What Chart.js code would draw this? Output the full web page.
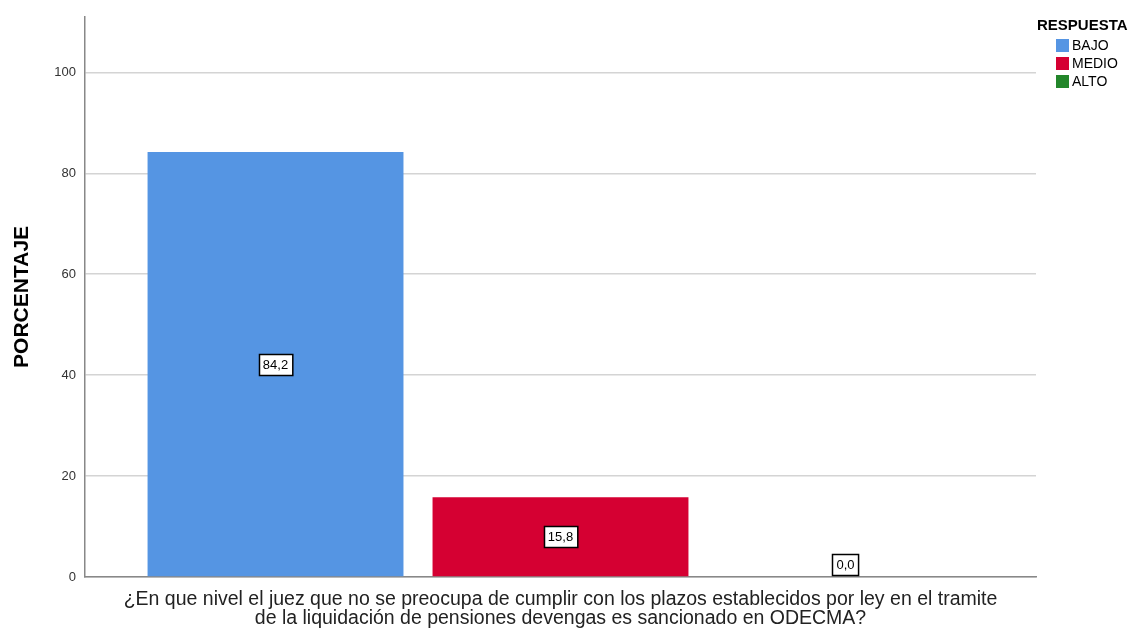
<!DOCTYPE html>
<html>
<head>
<meta charset="utf-8">
<script src="https://cdn.jsdelivr.net/npm/chart.js@4/dist/chart.umd.min.js"></script>
<style>
html,body{margin:0;padding:0;background:#fff;}
#wrap{width:1131px;height:630px;position:relative;}
</style>
</head>
<body>
<div id="wrap"><canvas id="c" width="1131" height="630"></canvas></div>
<script>
const categories = [''];
const seriesNames = ['BAJO', 'MEDIO', 'ALTO'];
const seriesValues = [[84.2], [15.8], [0.0]];
const seriesColors = ['#5595E3', '#D50032', '#23862A'];
const yTicks = [0, 20, 40, 60, 80, 100];
const yMax = 111;
const yTitle = 'PORCENTAJE';
const xTitle = ['¿En que nivel el juez que no se preocupa de cumplir con los plazos establecidos por ley en el tramite', 'de la liquidación de pensiones devengas es sancionado en ODECMA?'];
const legendTitle = 'RESPUESTA';

const FONT = '"Liberation Sans", Arial, sans-serif';

const labelPlugin = {
  id: 'valueBoxes',
  afterDatasetsDraw(chart) {
    const ctx = chart.ctx;
    ctx.save();
    ctx.font = '13px ' + FONT;
    ctx.textAlign = 'center';
    ctx.textBaseline = 'middle';
    chart.data.datasets.forEach((ds, i) => {
      const meta = chart.getDatasetMeta(i);
      meta.data.forEach((bar, j) => {
        const v = ds.data[j];
        const txt = v.toFixed(1).replace('.', ',');
        const w = ctx.measureText(txt).width + 8;
        const h = 21;
        let cy = (bar.y + bar.base) / 2;
        if (bar.base - bar.y < h + 4) cy = bar.base - h / 2 - 2;
        const x0 = Math.round(bar.x - w / 2) + 0.5;
        const y0 = Math.round(cy - h / 2) + 0.5;
        ctx.fillStyle = '#fff';
        ctx.fillRect(x0, y0, w, h);
        ctx.strokeStyle = '#000';
        ctx.lineWidth = 1.5;
        ctx.strokeRect(x0, y0, w, h);
        ctx.fillStyle = '#000';
        ctx.fillText(txt, bar.x, cy + 1);
      });
    });
    ctx.restore();
  }
};

const legendPlugin = {
  id: 'customLegend',
  afterDraw(chart) {
    const ctx = chart.ctx;
    ctx.save();
    ctx.textBaseline = 'middle';
    ctx.textAlign = 'left';
    ctx.fillStyle = '#000';
    ctx.font = 'bold 15px ' + FONT;
    ctx.fillText(legendTitle, 1037, 26);
    ctx.font = '14px ' + FONT;
    seriesNames.forEach((n, i) => {
      const y = 45 + i * 18;
      ctx.fillStyle = seriesColors[i];
      ctx.fillRect(1056, y - 6, 13, 13);
      ctx.fillStyle = '#000';
      ctx.fillText(n, 1072, y + 1);
    });
    ctx.restore();
  }
};

new Chart(document.getElementById('c'), {
  type: 'bar',
  data: {
    labels: categories,
    datasets: seriesNames.map((n, i) => ({
      label: n,
      data: seriesValues[i],
      backgroundColor: seriesColors[i],
      borderWidth: 0,
      categoryPercentage: 0.899,
      barPercentage: 0.898
    }))
  },
  options: {
    responsive: false,
    animation: false,
    layout: { padding: { left: 0, right: 95, top: 15, bottom: 0 } },
    plugins: {
      legend: { display: false },
      tooltip: { enabled: false }
    },
    scales: {
      x: {
        grid: { display: false },
        border: { display: true, color: '#888', width: 1.5 },
        ticks: { display: false },
        title: {
          display: true,
          text: xTitle,
          color: '#222',
          font: { family: FONT, size: 19.5, lineHeight: '19px' },
          padding: { top: 0, bottom: 2 }
        },
        afterFit(s) { s.height = 53; }
      },
      y: {
        min: 0,
        max: yMax,
        afterBuildTicks(s) { s.ticks = yTicks.map(v => ({ value: v })); },
        grid: { color: '#d4d4d4', lineWidth: 1.5, drawTicks: false },
        border: { display: true, color: '#888', width: 1.5 },
        ticks: { color: '#333', font: { family: FONT, size: 13 }, padding: 9 },
        title: {
          display: true,
          text: yTitle,
          color: '#000',
          font: { family: FONT, size: 21, weight: 'bold', lineHeight: 1.2 },
          padding: { top: 10, bottom: 0 }
        },
        afterFit(s) { s.width = 85; }
      }
    }
  },
  plugins: [labelPlugin, legendPlugin]
});
</script>
</body>
</html>
